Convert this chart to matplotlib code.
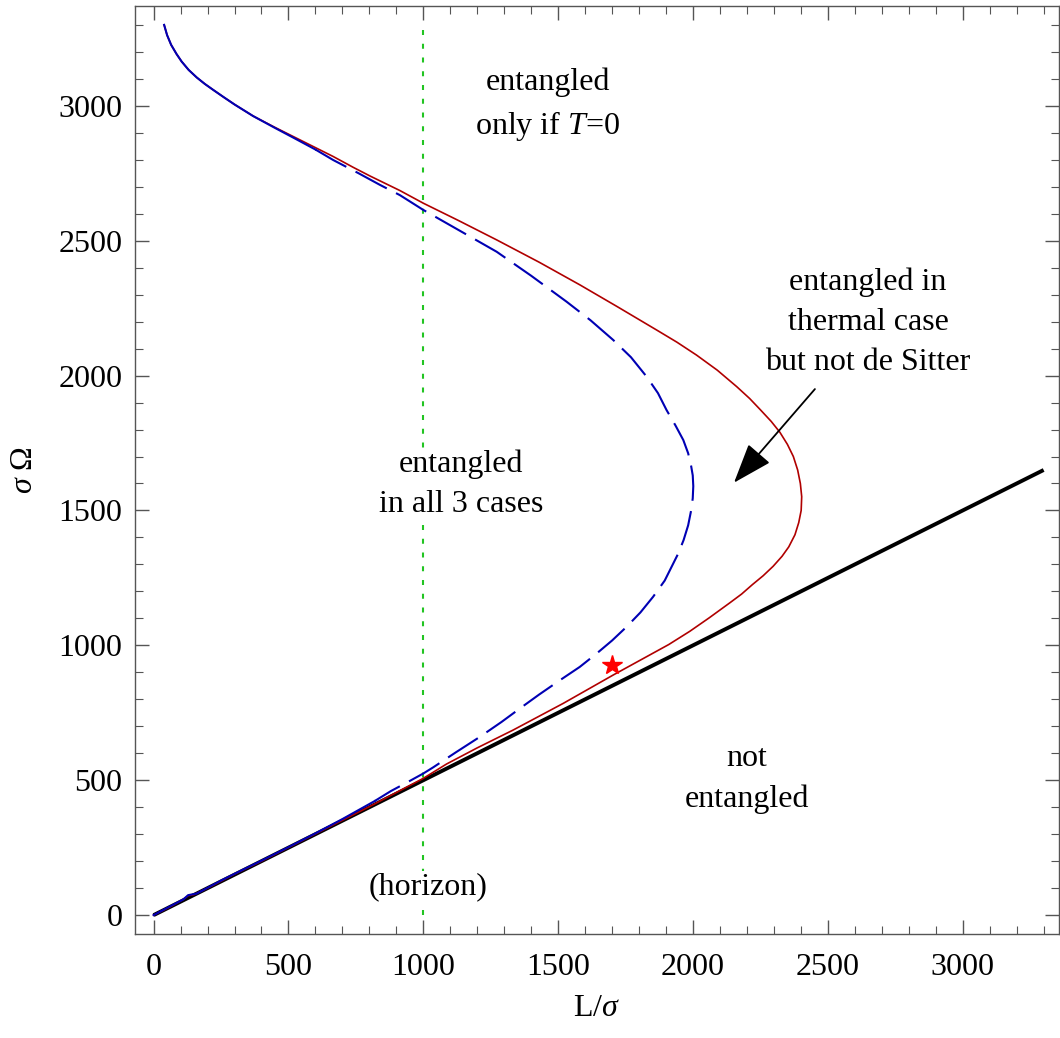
import matplotlib
matplotlib.use("Agg")
import matplotlib.pyplot as plt
from matplotlib.ticker import MultipleLocator

plt.rcParams['font.family'] = ['Liberation Serif', 'DejaVu Serif']
plt.rcParams['mathtext.fontset'] = 'custom'
plt.rcParams['mathtext.rm'] = 'Liberation Serif'
plt.rcParams['mathtext.it'] = 'Liberation Serif:italic'

# ---- data ----
# thermal boundary (red, solid)
red_x = [39, 50, 65, 85, 104, 130, 160, 190, 221, 260, 300, 369, 450, 518, 600, 666, 740,
         802, 913, 1000, 1130, 1272, 1430, 1581, 1720, 1865, 1940, 2013, 2090, 2162, 2210,
         2250, 2290, 2322, 2350, 2372, 2388, 2398, 2403, 2401, 2392, 2378, 2355, 2330, 2297,
         2260, 2220, 2180, 2137, 2060, 1988, 1910, 1828, 1704, 1519, 1333, 1200, 1086,
         1000, 800, 600, 400, 300, 200, 150, 128, 110, 60, 0]
red_y = [3300, 3262, 3226, 3192, 3164, 3133, 3105, 3081, 3059, 3032, 3005, 2962, 2920, 2886,
         2845, 2812, 2772, 2740, 2686, 2639, 2575, 2503, 2420, 2336, 2255, 2169, 2124, 2076,
         2020, 1959, 1915, 1873, 1830, 1790, 1745, 1700, 1650, 1600, 1551, 1500, 1455, 1410,
         1365, 1330, 1293, 1258, 1225, 1190, 1158, 1102, 1052, 1003, 958, 890, 785, 686,
         620, 560, 507, 402, 301, 200, 152, 100, 76, 72, 58, 30, 0]

# de Sitter boundary (blue, dashed part)
blue_x = [600, 666, 760, 839, 913, 1000, 1130, 1272, 1400, 1531, 1620, 1704, 1770, 1828,
          1870, 1902, 1935, 1964, 1982, 1993, 1999, 2001, 1999, 1993, 1982, 1965, 1945,
          1927, 1895, 1852, 1805, 1754, 1700, 1643, 1580, 1507, 1430, 1358, 1290, 1210,
          1120, 1037, 1000, 940, 880, 820]
blue_y = [2838, 2799, 2750, 2707, 2669, 2614, 2540, 2459, 2370, 2274, 2205, 2132, 2068, 1996,
          1935, 1872, 1815, 1761, 1712, 1665, 1630, 1590, 1545, 1500, 1445, 1390, 1340,
          1304, 1240, 1180, 1122, 1069, 1018, 970, 920, 871, 818, 766, 716, 661,
          603, 548, 525, 492, 460, 423]
# de Sitter boundary, parts drawn solid (close to the other curves)
blue_top_x = [39, 50, 65, 85, 104, 130, 160, 190, 221, 260, 300, 369, 450, 518, 600]
blue_top_y = [3300, 3262, 3226, 3192, 3164, 3133, 3105, 3081, 3059, 3032, 3005, 2962, 2918,
              2882, 2838]
blue_low_x = [820, 700, 600, 500, 400, 300, 250, 160, 128, 110, 60, 0]
blue_low_y = [423, 356, 303, 252, 202, 153, 128, 80, 74, 58, 32, 0]

# zero-temperature boundary (black)
black_x = [0, 3300]
black_y = [0, 1650]

horizon_x = 1000
horizon_y = [0, 3300]

star_x, star_y = 1700, 927

fig = plt.figure(figsize=(10.6, 10.38), dpi=100)
ax = fig.add_axes([135/1060, 104/1038, (1059-135)/1060, (934-6)/1038])

ax.plot([horizon_x, horizon_x], horizon_y, color='#22c422', lw=1.5,
        linestyle=(0, (2.4, 4.2)), zorder=1)
ax.plot(black_x, black_y, color='black', lw=2.8, solid_capstyle='butt', zorder=2)
ax.plot(red_x, red_y, color='#b00000', lw=1.2, zorder=3)
ax.plot(blue_top_x, blue_top_y, color='#0000b4', lw=1.5, zorder=4)
ax.plot(blue_low_x, blue_low_y, color='#0000b4', lw=1.5, zorder=4)
ax.plot(blue_x, blue_y, color='#0000b4', lw=1.5, linestyle=(0, (17, 5)), zorder=4)
ax.plot([star_x], [star_y], marker='*', color='red', markersize=15, mec='red', zorder=5)

fs = 23
tk = dict(ha='center', va='center', fontsize=fs, linespacing=1.5, zorder=6)
ax.text(1462, 3003, 'entangled\nonly if $T$=0', **tk)
ax.text(2649, 2199, 'entangled in\nthermal case\nbut not de Sitter', **tk)
ax.text(1141, 1598, 'entangled\nin all 3 cases',
        bbox=dict(facecolor='white', edgecolor='none', pad=1), **tk)
ax.text(2200, 504, 'not\nentangled', **tk)
ax.text(1017, 104, '(horizon)',
        bbox=dict(facecolor='white', edgecolor='none', pad=1), **tk)

ax.annotate('', xy=(2152, 1603), xytext=(2452, 1950),
            arrowprops=dict(arrowstyle='-|>,head_length=1.25,head_width=0.45',
                            mutation_scale=20, lw=1.3, color='black',
                            shrinkA=0, shrinkB=0), zorder=6)

ax.set_xlim(-69, 3357)
ax.set_ylim(-70, 3370)

frame_c = '#555555'
for s in ax.spines.values():
    s.set_color(frame_c)
    s.set_linewidth(1.0)
ax.xaxis.set_major_locator(MultipleLocator(500))
ax.xaxis.set_minor_locator(MultipleLocator(100))
ax.yaxis.set_major_locator(MultipleLocator(500))
ax.yaxis.set_minor_locator(MultipleLocator(100))
ax.tick_params(which='both', direction='in', top=True, right=True,
               color=frame_c, labelsize=fs, labelcolor='black')
ax.tick_params(which='major', length=10, width=1.0)
ax.tick_params(axis='x', which='major', pad=14)
ax.tick_params(axis='y', which='major', pad=9)
ax.tick_params(which='minor', length=6, width=0.8)

ax.set_xlabel('L/$\\sigma$', fontsize=fs, labelpad=8)
ax.set_ylabel('$\\sigma$ Ω', fontsize=fs, labelpad=14)

fig.savefig('out.png', dpi=100)
